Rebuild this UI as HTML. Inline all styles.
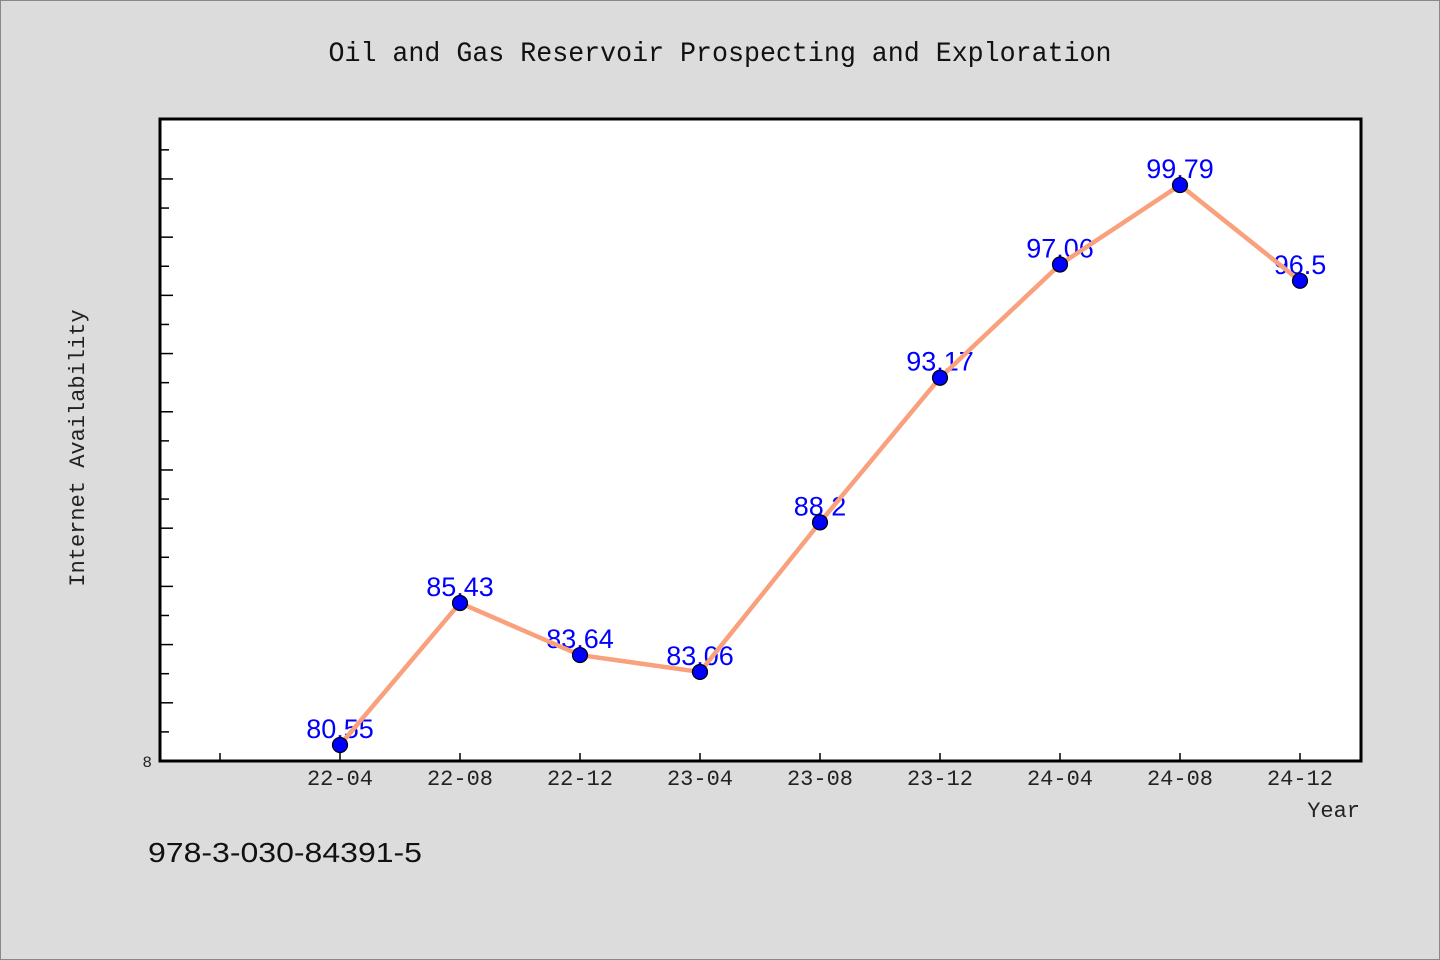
<!DOCTYPE html>
<html><head><meta charset="utf-8"><style>
html,body{margin:0;padding:0;background:#dcdcdc;}
svg{display:block;}
</style></head><body>
<svg id="chart" width="1440" height="960" xmlns="http://www.w3.org/2000/svg" font-family="'Liberation Mono', 'WenQuanYi Zen Hei', monospace">
<rect x="0.5" y="0.5" width="1439" height="959" fill="#dcdcdc" stroke="#888"/>
<text x="720" y="61" text-anchor="middle" font-size="28" fill="#111" textLength="783" lengthAdjust="spacingAndGlyphs">Oil and Gas Reservoir Prospecting and Exploration</text>
<rect x="160" y="119" width="1201" height="642" fill="#fff"/>
<g id="yticks"></g>
<g id="xticks"></g>
<g id="labels"></g>
<g id="series"></g>
<g id="markers"></g>
<rect x="160" y="119" width="1201" height="642" fill="none" stroke="#000" stroke-width="3"/>
<text x="152" y="767" text-anchor="end" font-size="16" fill="#222">8</text>
<text transform="translate(84,448) rotate(-90)" text-anchor="middle" font-size="22" fill="#222">Internet Availability</text>
<text x="1360" y="817" text-anchor="end" font-size="22" fill="#222">Year</text>
<text x="148" y="862" font-family="'Liberation Sans', 'WenQuanYi Zen Hei', sans-serif" font-size="28" fill="#111" textLength="274" lengthAdjust="spacingAndGlyphs">978-3-030-84391-5</text>
</svg>
<script>
const categories = ["22-04","22-08","22-12","23-04","23-08","23-12","24-04","24-08","24-12"];
const values = [80.55,85.43,83.64,83.06,88.2,93.17,97.06,99.79,96.5];
const valueLabels = ["80.55","85.43","83.64","83.06","88.2","93.17","97.06","99.79","96.5"];
const NS = "http://www.w3.org/2000/svg";
const yMin = 80, yMax = 102.06, plotTop = 119, plotBottom = 761;
const yScale = v => plotBottom - (v - yMin) / (yMax - yMin) * (plotBottom - plotTop);
const xScale = i => 220 + 120 * (i + 1);
function mk(tag, attrs, parent){const e=document.createElementNS(NS,tag);for(const k in attrs)e.setAttribute(k,attrs[k]);parent.appendChild(e);return e;}
const yt = document.getElementById('yticks');
for (let v = 81; v <= 101; v++) {
  const len = v % 2 === 0 ? 13 : 9;
  const t = mk('line',{x1:160,x2:160+len,y1:yScale(v),y2:yScale(v),stroke:'#000','stroke-width':1.5},yt);
  
  
}
const xt = document.getElementById('xticks');
for (let i = -1; i < categories.length; i++) {
  const t = mk('line',{x1:xScale(i),x2:xScale(i),y1:761,y2:753,stroke:'#000','stroke-width':1.5},xt);
  
  
  if (i >= 0) {
    const l = mk('text',{x:xScale(i),y:785,'text-anchor':'middle','font-size':22,fill:'#222'},xt);
    l.textContent = categories[i];
    
    
  }
}
const lb = document.getElementById('labels');
values.forEach((v,i)=>{
  const t = mk('text',{x:xScale(i),y:yScale(v)-7,'text-anchor':'middle','font-family':"'Liberation Sans', 'WenQuanYi Zen Hei', sans-serif",'font-size':27,fill:'#0000ff'},lb);
  t.textContent = valueLabels[i];
  
  
});
const s = document.getElementById('series');
const pl = mk('polyline',{points:values.map((v,i)=>xScale(i)+','+yScale(v)).join(' '),fill:'none',stroke:'#f9a07c','stroke-width':4.5,'stroke-linejoin':'round'},s);


const m = document.getElementById('markers');
values.forEach((v,i)=>{
  const c = mk('circle',{cx:xScale(i),cy:yScale(v),r:7.5,fill:'#0000ff',stroke:'#000','stroke-width':1.2},m);
  
  
});
</script>
</body></html>
